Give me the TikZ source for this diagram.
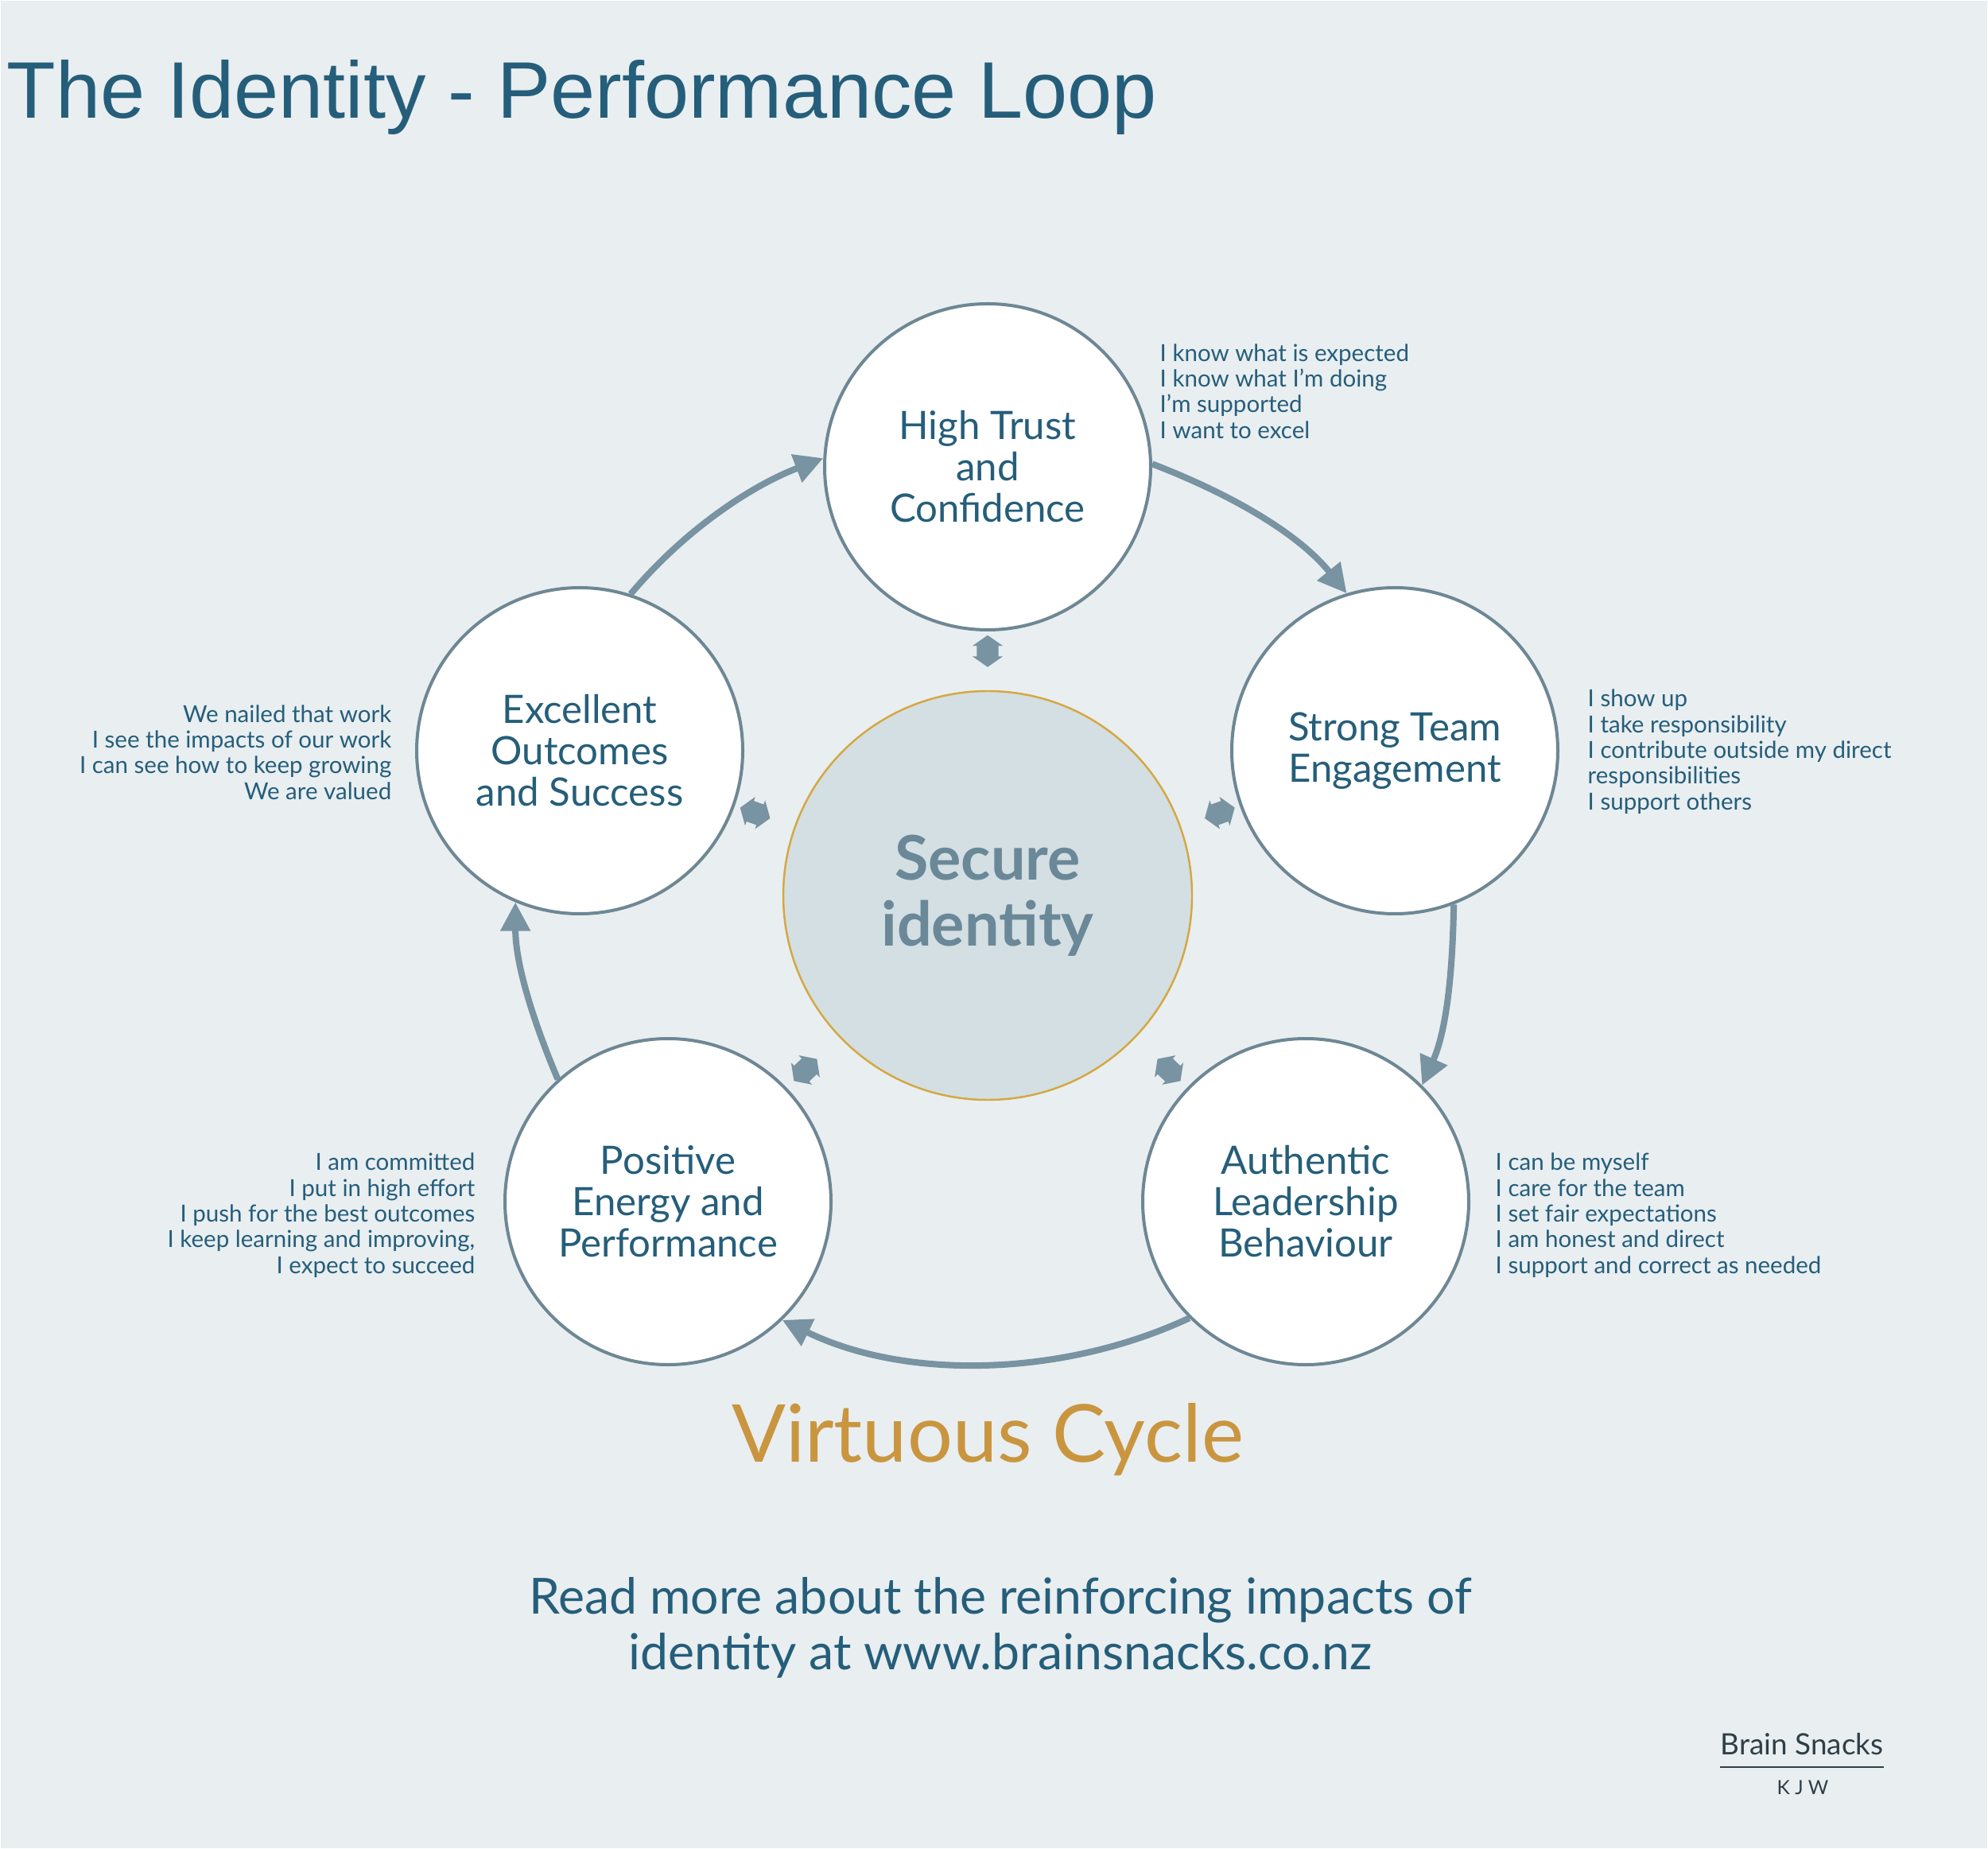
\documentclass[tikz,border=0pt]{standalone}
\usepackage{fontspec}
\setmainfont{Lato}
\newfontfamily\titlefont{Liberation Sans}
\usetikzlibrary{arrows.meta,shapes.arrows}

\definecolor{paper}{HTML}{E9EEF1}
\definecolor{ink}{HTML}{255E7A}
\definecolor{rim}{HTML}{6E8794}
\definecolor{link}{HTML}{7893A1}
\definecolor{corefill}{HTML}{D3DFE2}
\definecolor{gold}{HTML}{D4A841}
\definecolor{coretext}{HTML}{6A8898}
\definecolor{cycle}{HTML}{C9963F}
\definecolor{brand}{HTML}{2F3F46}

\tikzset{
  note/.style={text=ink, inner sep=0pt, font=\fontsize{8.4}{9.2}\selectfont}
}

\begin{document}
\begin{tikzpicture}
      \useasboundingbox (0,0) rectangle (25,-23.25);
      \fill[paper, draw=white, line width=0.03cm] (0,0) rectangle (25,-23.25);

      \node[anchor=base west, inner sep=0pt, text=ink, font=\titlefont\fontsize{28.7}{30}\selectfont] (title) at (0.08,-1.49) {The Identity - Performance Loop};

      \node[circle, fill=corefill, draw=gold, line width=0.7pt, minimum size=5.14cm, align=center, text=coretext, font=\bfseries\fontsize{22}{23.6}\selectfont] (core) at (12.42,-11.26) {Secure\\identity};

      \begin{scope}[every node/.style={circle, draw=rim, fill=white, line width=0.04cm, minimum size=4.1cm, inner sep=0pt, align=center, text=ink, font=\fontsize{14}{14.8}\selectfont}]
        \node (trust) at (12.42,-5.87) {High Trust\\and\\Confidence};
        \node (team) at (17.54,-9.44) {Strong Team\\Engagement};
        \node (lead) at (16.42,-15.11) {Authentic\\Leadership\\Behaviour};
        \node (energy) at (8.40,-15.11) {Positive\\Energy and\\Performance};
        \node (outcome) at (7.29,-9.44) {Excellent\\Outcomes\\and Success};
      \end{scope}

      % notes beside each circle
      \node[note, anchor=west, align=left] (trustnote) at (14.58,-4.92) {I know what is expected\\I know what I'm doing\\I'm supported\\I want to excel};
      \node[note, anchor=west, align=left] (teamnote) at (19.96,-9.45) {I show up\\I take responsibility\\I contribute outside my direct\\responsibilities\\I support others};
      \node[note, anchor=west, align=left] (leadnote) at (18.80,-15.28) {I can be myself\\I care for the team\\I set fair expectations\\I am honest and direct\\I support and correct as needed};
      \node[note, anchor=east, align=right] (energynote) at (5.98,-15.28) {I am committed\\I put in high effort\\I push for the best outcomes\\I keep learning and improving,\\I expect to succeed};
      \node[note, anchor=east, align=right] (outcomenote) at (4.93,-9.46) {We nailed that work\\I see the impacts of our work\\I can see how to keep growing\\We are valued};

      \begin{scope}[every node/.style={double arrow, fill=link, minimum height=0.40cm, inner xsep=0pt, inner ysep=0.13cm, double arrow head extend=0.055cm, double arrow tip angle=110, sloped, pos=0.43}]
        \path (trust.center) -- node {} (core.center);
        \path (team.center) -- node {} (core.center);
        \path (lead.center) -- node {} (core.center);
        \path (energy.center) -- node {} (core.center);
        \path (outcome.center) -- node {} (core.center);
      \end{scope}

      \begin{scope}[>={Triangle[length=3.6mm,width=3.6mm]},
          every edge/.style={draw=link, line width=0.08cm, ->, looseness=0.87}]
        \path (trust.1) edge[out=-21, in=129] (team.107);
        \path (team.291) edge[out=-91, in=66] (lead.45);
        \path (lead.225) edge[out=205, in=334] (energy.314);
        \path (energy.132) edge[out=113, in=270] (outcome.247);
        \path (outcome.72) edge[out=50, in=201] (trust.177);
      \end{scope}

      \node[anchor=base, inner sep=0pt, text=cycle, font=\fontsize{28.6}{32}\selectfont] (virtue) at (12.42,-18.38) {Virtuous Cycle};

      \node[align=center, inner sep=0pt, text=ink, font=\fontsize{17.8}{19.8}\selectfont] (more) at (12.58,-20.47) {Read more about the reinforcing impacts of\\identity at www.brainsnacks.co.nz};

      \node[anchor=base, inner sep=0pt, text=brand, font=\fontsize{10.5}{12}\selectfont] (brainsnacks) at (22.66,-22.06) {Brain Snacks};
      \draw[brand, line width=0.02cm] ([yshift=-0.16cm]brainsnacks.base west) -- ([yshift=-0.16cm]brainsnacks.base east);
      \node[anchor=base, inner sep=0pt, text=brand, font=\fontsize{7}{8}\selectfont] (kjw) at (22.67,-22.56) {K J W};
    \end{tikzpicture}
\end{document}
